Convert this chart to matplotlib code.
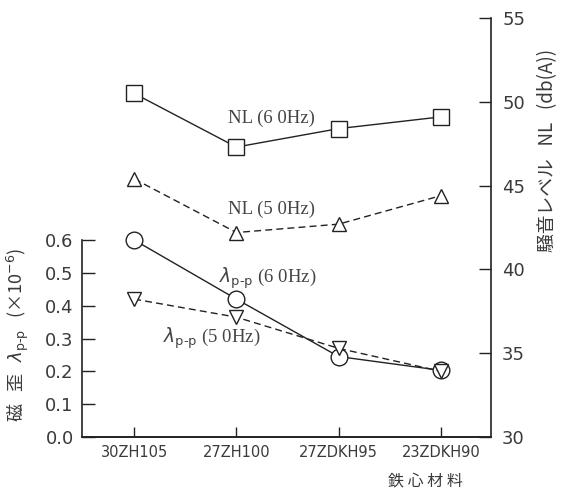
import matplotlib
matplotlib.use("Agg")
import matplotlib.pyplot as plt

# core materials on the x axis
materials = ["30ZH105", "27ZH100", "27ZDKH95", "23ZDKH90"]

# noise level NL, dB(A)
nl_60 = [50.5, 47.3, 48.4, 49.1]
nl_50 = [45.4, 42.2, 42.7, 44.4]

# magnetostriction lambda p-p, x10^-6
lam_60 = [0.60, 0.42, 0.245, 0.203]
lam_50 = [0.42, 0.365, 0.27, 0.20]

strain_ticks = [0.0, 0.1, 0.2, 0.3, 0.4, 0.5, 0.6]
noise_ticks = [30, 35, 40, 45, 50, 55]

ink = "#222222"
grey = "#3a3a3a"
cjk = ["Noto Sans CJK JP", "DejaVu Sans"]
serif = ["Liberation Serif", "DejaVu Serif"]
lam = r"$\lambda_{\mathrm{p\text{-}p}}$"

fig = plt.figure(figsize=(5.65, 4.99), dpi=100)
ax = fig.add_axes([82 / 565, 62 / 499, 409 / 565, 419 / 499])
ax2 = ax.twinx()

x = list(range(len(materials)))

# strain curves on the left scale
ax.plot(x, lam_60, "-", color=ink, lw=1.0, marker="o", ms=12,
        mfc="white", mec=ink, mew=1.0, zorder=3)
ax.plot(x, lam_50, "--", color=ink, lw=1.0, marker="v", ms=10,
        mfc="white", mec=ink, mew=1.0, zorder=4, dashes=(5, 3))

# noise curves on the right scale
ax2.plot(x, nl_60, "-", color=ink, lw=1.0, marker="s", ms=11,
         mfc="white", mec=ink, mew=1.0)
ax2.plot(x, nl_50, "--", color=ink, lw=1.0, marker="^", ms=10,
         mfc="white", mec=ink, mew=1.0, dashes=(5, 3))

ax.set_xlim(-0.51, 3.49)
ax.set_ylim(0, 0.6 * 419 / 197)
ax2.set_ylim(30, 55)

ax.set_xticks(x)
ax.set_xticklabels(materials, fontsize=10.5)
ax.set_yticks(strain_ticks)
ax.set_yticklabels([f"{v:.1f}" for v in strain_ticks], fontsize=13)
ax2.set_yticks(noise_ticks)
ax2.set_yticklabels([str(v) for v in noise_ticks], fontsize=13)

ax.tick_params(axis="x", direction="in", length=7, width=1, pad=6, colors=ink,
               labelcolor=grey)
ax.tick_params(axis="y", direction="in", length=9, width=1, pad=6, colors=ink,
               labelcolor=grey)
ax2.tick_params(axis="y", direction="in", length=9, width=1, pad=8, colors=ink,
                labelcolor=grey)

for a in (ax, ax2):
    a.spines["top"].set_visible(False)
    for s in a.spines.values():
        s.set_color(ink)
        s.set_linewidth(1.2)
ax.spines["left"].set_bounds(0, 0.6)
ax2.spines["left"].set_visible(False)
ax.spines["right"].set_visible(False)

# curve labels
ax2.text(1.34, 49.0, "NL (6 0Hz)", fontsize=13.5, family=serif, color="#444444",
         ha="center", va="center")
ax2.text(1.34, 43.6, "NL (5 0Hz)", fontsize=13.5, family=serif, color="#444444",
         ha="center", va="center")
ax.text(1.31, 0.484, lam + " (6 0Hz)", fontsize=13.5, family=serif,
        color="#444444", ha="center", va="center")
ax.text(0.76, 0.30, lam + " (5 0Hz)", fontsize=13.5, family=serif,
        color="#444444", ha="center", va="center")

# axis titles
fig.text(18 / 565, 1 - 335 / 499,
         "磁   歪   " + lam + "   (×10$^{-6}$)",
         rotation=90, fontsize=13, family=cjk, color=grey,
         ha="center", va="center")
fig.text(548 / 565, 1 - 150 / 499, "騒音レベル   NL   (db(A))",
         rotation=90, fontsize=13.5, family=cjk, color=grey,
         ha="center", va="center")
fig.text(425 / 565, 1 - 481 / 499, "鉄 心 材 料", fontsize=11.5, family=cjk,
         color=grey, ha="center", va="center")

fig.savefig("out.png", dpi=100)
